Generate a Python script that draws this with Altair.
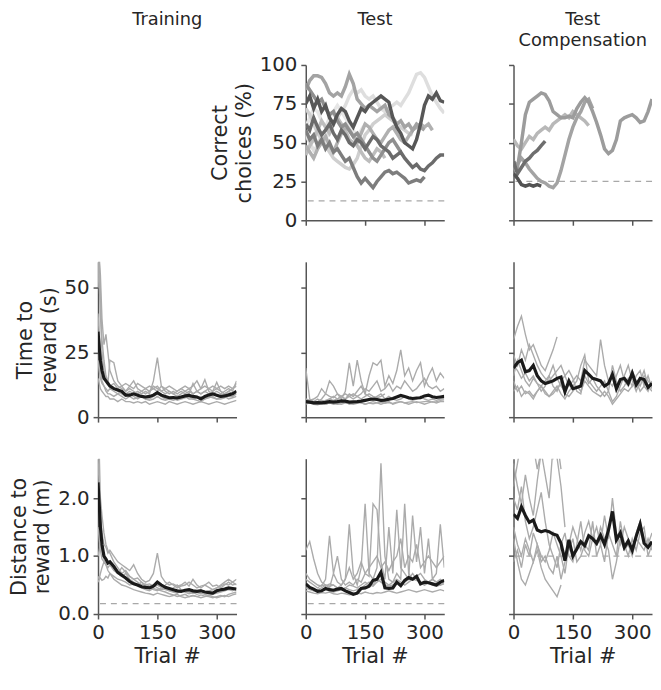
import altair as alt
import pandas as pd

# ---------------- trial grids ----------------
T10 = list(range(0, 351, 10))
T_TRAIN = [0, 3, 6, 10, 15, 20, 25, 30] + list(range(40, 351, 10))

# ---------------- Row 1: correct choices (%) - Test ----------------
CC_T1 = [75, 80, 72, 78, 70, 74, 66, 62, 68, 72, 70, 64, 60, 66, 72, 70, 74, 76, 78, 80, 78, 76, 66, 60, 56, 50, 48, 46, 52, 62, 74, 80, 78, 82, 77, 76]
CC_T2 = [62, 58, 66, 60, 55, 58, 62, 56, 52, 58, 55, 50, 48, 52, 50, 46, 50, 54, 52, 48, 46, 44, 40, 42, 44, 40, 37, 34, 36, 33, 32, 35, 37, 40, 42, 42]
CC_T3 = [58, 52, 55, 48, 52, 46, 50, 44, 46, 42, 38, 40, 34, 28, 24, 27, 24, 21, 25, 28, 31, 32, 30, 31, 29, 27, 24, 25, 26, 25, 28]
CC_T4 = [84, 90, 93, 93, 92, 88, 82, 80, 82, 80, 86, 94, 88, 78, 75, 72, 74, 72, 70, 72, 74, 68, 66, 62, 64, 60, 62, 58, 62, 60, 58]
CC_T5 = [55, 50, 45, 48, 55, 52, 58, 62, 66, 70, 74, 80, 84, 82, 84, 80, 78, 80, 76, 72, 70, 72, 74, 76, 74, 78, 82, 88, 94, 95, 92, 86, 80, 76, 72, 69]
CC_T6 = [72, 68, 62, 56, 52, 48, 44, 40, 38, 36, 34, 33, 36, 40, 48, 55, 58, 62, 64, 66, 68, 66, 64, 62, 60, 58, 56, 55]
CC_T7 = [48, 44, 40, 46, 50, 54, 48, 44, 50, 56, 60, 58, 54, 50, 56, 62, 60, 56, 52, 50, 54, 58, 60, 56, 52, 50, 54, 58, 60, 62, 60, 62, 58]
CC_T8 = [88, 84, 80, 76, 78, 72, 68, 70, 64, 60, 62, 58, 54, 56, 52, 48, 44, 40, 38, 42, 46, 50, 52, 48, 44]
CC_T9 = [42, 48, 52, 58, 64, 60, 56, 62, 66, 62, 58, 52, 50, 48, 44, 40, 38, 42, 46, 44, 40]
CC_T10 = [60, 66, 72, 70, 64, 60, 66, 70, 74, 70, 66, 62, 58, 54, 58, 62]
CC_T_COLORS = ["#e6e6e6", "#dedede", "#cfcfcf", "#bdbdbd", "#b0b0b0", "#a3a3a3", "#8f8f8f", "#7d7d7d", "#6b6b6b", "#575757"]
CC_T_CHANCE = 12.5

# ---------------- Row 1: correct choices (%) - Test Compensation ----------------
CC_C1 = [38, 34, 50, 68, 76, 78, 80, 82, 81, 77, 70, 68, 66, 66, 67, 66, 72, 76, 79, 76, 70, 63, 55, 46, 43, 45, 52, 64, 66, 67, 68, 66, 63, 64, 70, 78]
CC_C2 = [52, 48, 46, 50, 54, 52, 56, 58, 60, 58, 62, 64, 66, 68, 66, 70, 68, 66, 64, 61]
CC_C3 = [32, 36, 40, 37, 33, 30, 27, 25, 24, 22, 21, 24, 32, 42, 52, 60, 66, 70, 76, 78, 72]
CC_C4 = [38, 30, 34, 38, 40, 43, 45, 48, 51]
CC_C5 = [30, 27, 23, 22, 23, 22, 23, 22]
CC_C_COLORS = ["#b8b8b8", "#a3a3a3", "#9c9c9c", "#6e6e6e", "#525252"]
CC_C_CHANCE = 25

# ---------------- Row 2: time to reward (s) ----------------
TT_MEAN = [33, 27, 22, 18, 15, 14, 13, 12, 11, 10.5, 10, 8.5, 8.5, 9, 8.5, 8, 7.8, 8, 8.5, 9.5, 8.5, 8, 7.5, 7.6, 7.4, 7.8, 8.2, 8.4, 8, 7.8, 7, 8, 8.6, 9, 8.5, 8, 8.2, 8.6, 9, 10]
TT_G1 = [75, 65, 48, 30, 22, 16, 14, 12, 11, 10, 9, 8, 9, 8, 7, 8, 7, 7, 8, 9, 8, 7, 7, 6.5, 7, 7.5, 8, 7, 7, 6.5, 6, 7, 8, 7.5, 7, 7, 7.5, 8, 8, 9]
TT_G2 = [50, 60, 55, 38, 28, 32, 25, 18, 14, 12, 11, 10, 11, 10, 9, 10, 9, 10, 11, 12, 10, 11, 10, 9, 10, 11, 10, 9, 13, 10, 9, 10, 11, 10, 11, 10, 9, 10, 11, 12]
TT_G3 = [40, 32, 26, 20, 16, 14, 13, 22, 21, 14, 12, 13, 12, 14, 11, 10, 11, 10, 12, 11, 10, 9, 10, 9, 8, 9, 10, 11, 9, 10, 11, 14.5, 10, 9, 10, 9, 10, 11, 10, 14]
TT_G4 = [22, 18, 15, 13, 12, 11, 10, 11, 10, 9, 10, 9, 10, 9, 10, 9, 10, 9, 14, 23, 12, 10, 9, 10, 9, 10, 9, 10, 9, 10, 9, 10, 9, 10, 13.5, 10, 9, 10, 9, 10]
TT_G5 = [15, 13, 11, 10, 9, 8, 8, 7, 7, 6, 7, 6, 6, 5.5, 6, 5.5, 6, 5, 5.5, 6, 5.5, 5, 6, 5.5, 5, 5.5, 6, 5.5, 5, 5.5, 6, 5.5, 5, 5.5, 6, 5.5, 5, 5.5, 6, 6.5]
TT_G6 = [30, 24, 18, 14, 12, 10, 9, 9, 8, 9, 8, 7, 8, 7, 7.5, 8, 7, 6.5, 7, 8, 7, 6.5, 7, 7.5, 6.5, 7, 7.5, 8, 7, 7.5, 8, 7, 7.5, 8, 7, 7.5, 8, 7, 7.5, 8]
TT_G7 = [62, 52, 40, 25, 18, 15, 13, 12, 13, 11, 12, 10, 12, 11, 13, 12, 11, 12, 11, 10, 12, 11, 12, 11, 10, 11, 12, 11, 12, 14, 11, 12, 11, 12, 11, 12, 11, 12, 11, 13]

TS_MEAN = [6, 5.8, 5.5, 5.6, 5.5, 5.7, 6, 5.8, 6, 6.3, 6.2, 5.8, 5.9, 6, 6.2, 6.5, 6.8, 7, 6.8, 6.5, 6.6, 6.9, 7.2, 7.8, 8.4, 8, 7.5, 7.2, 7.4, 7.5, 8.2, 8.5, 7.9, 7.6, 7.8, 8]
TS_G1 = [19, 7, 6, 5.5, 6, 5, 5.5, 6, 5, 5.5, 6, 5, 5.5, 6, 5.5, 5, 5.5, 6, 5.5, 5, 5.5, 6, 5, 5.5, 6, 5.5, 5, 5.5, 6, 5.5, 5, 5.5, 6, 5.5, 6, 6]
TS_G2 = [7, 6, 5.5, 6, 7, 9, 14, 12, 9, 7, 10, 21, 12, 22, 14, 9, 8, 7, 8, 9, 7, 8, 7, 6.5, 7, 8, 7, 6.5, 7, 8, 7, 6.5, 7, 6.5, 7, 7]
TS_G3 = [6, 5.5, 6, 7, 6, 6.5, 7, 8, 7, 8, 7, 9, 8, 10, 12, 9, 16, 21, 20, 22, 12, 16, 13, 18, 26, 16, 19, 14, 18, 21, 12, 16, 19, 14, 17, 15]
TS_G4 = [6.5, 6, 5.5, 6, 6.5, 6, 7, 6.5, 7, 8, 9, 8, 7, 8, 9, 11, 10, 12, 14, 10, 11, 13, 10, 12, 11, 14, 12, 10, 11, 13, 15, 12, 11, 12, 10, 11]
TS_G5 = [5, 5.5, 5, 4.8, 5.2, 5, 5.5, 5, 5.2, 5, 5.5, 5.2, 5, 5.3, 5.6, 5, 5.4, 5.2, 5.5, 5.8, 5.4, 5.6, 5.3, 5.8, 6, 5.5, 5.8, 6, 5.6, 5.8, 6, 6.2, 5.8, 6, 6.4, 6.2]
TS_G6 = [7, 6.5, 7, 8, 11, 9, 8, 7.5, 9, 8, 7, 8, 9, 8, 7, 8, 9, 8, 7.5, 8, 9]

TC_MEAN = [19, 21, 22, 17.5, 18, 20, 16, 14, 13, 13.5, 14, 15, 15.5, 9.8, 14, 11, 11.5, 12, 18, 16.5, 15, 14.5, 14, 12, 13, 16.5, 11, 14.5, 15, 13, 17, 12.5, 15, 14.5, 11.5, 13]
TC_G1 = [30, 35, 39, 32, 26, 28, 24, 20, 18, 22, 26, 31]
TC_G2 = [24, 20, 26, 22, 28, 24, 20, 17, 15, 14, 16, 18, 20, 16, 12, 14, 16, 14, 22, 20, 18, 16, 30, 20, 14, 12, 16, 20, 14, 12, 18, 14, 12, 16, 14, 12]
TC_G3 = [14, 10, 12, 9, 10, 8, 10, 12, 9, 8, 10, 12, 9, 7, 10, 12, 14, 20, 24, 14, 12, 10, 12, 14, 10, 6, 8, 12, 16, 20, 14, 10, 14, 18, 12, 10]
TC_G4 = [20, 18, 15, 17, 14, 16, 13, 12, 14, 16, 12, 10, 14, 16, 18, 15, 10, 9, 16, 13, 15, 12, 10, 8, 10, 20, 14, 10, 12, 15, 12, 16, 18, 12, 10, 14]
TC_G5 = [16, 22, 18, 14, 12, 15, 13, 10, 12, 16, 20, 15, 12, 10]
TC_G6 = [10, 12, 8, 10, 9, 7, 10, 12, 10, 8, 9, 11, 13, 9, 8, 10, 12, 10, 14, 12, 10, 9, 8, 10, 8, 5, 7, 9, 11, 10, 12, 14, 10, 12, 16, 11]

# ---------------- Row 3: distance to reward (m) ----------------
DT_MEAN = [2.27, 1.9, 1.5, 1.2, 1.0, 0.95, 0.88, 0.9, 0.82, 0.72, 0.67, 0.62, 0.56, 0.52, 0.5, 0.47, 0.46, 0.45, 0.48, 0.55, 0.5, 0.46, 0.44, 0.42, 0.4, 0.39, 0.41, 0.42, 0.4, 0.39, 0.4, 0.38, 0.37, 0.36, 0.4, 0.42, 0.43, 0.45, 0.44, 0.43]
DT_G1 = [3.0, 2.8, 2.0, 1.7, 1.4, 1.2, 1.1, 1.05, 0.9, 0.8, 0.7, 0.75, 0.65, 0.6, 0.55, 0.5, 0.52, 0.48, 0.5, 0.45, 0.42, 0.44, 0.4, 0.38, 0.36, 0.4, 0.38, 0.35, 0.37, 0.34, 0.36, 0.34, 0.32, 0.34, 0.36, 0.38, 0.4, 0.42, 0.4, 0.45]
DT_G2 = [2.7, 2.2, 1.7, 1.4, 1.2, 1.15, 1.05, 1.1, 1.0, 0.9, 0.85, 0.8, 0.75, 0.85, 0.7, 0.6, 0.55, 0.58, 0.7, 1.05, 0.65, 0.55, 0.5, 0.52, 0.48, 0.5, 0.55, 0.48, 0.6, 0.5, 0.45, 0.5, 0.55, 0.48, 0.5, 0.45, 0.5, 0.55, 0.5, 0.52]
DT_G3 = [0.65, 0.6, 0.62, 0.58, 0.6, 0.65, 0.62, 0.7, 0.65, 0.6, 0.58, 0.55, 0.5, 0.52, 0.48, 0.45, 0.42, 0.4, 0.44, 0.42, 0.4, 0.38, 0.35, 0.33, 0.3, 0.32, 0.34, 0.3, 0.32, 0.3, 0.28, 0.3, 0.32, 0.3, 0.28, 0.3, 0.32, 0.3, 0.33, 0.35]
DT_G4 = [1.0, 1.1, 1.2, 1.1, 0.95, 0.85, 0.8, 0.85, 0.78, 0.7, 0.8, 0.72, 0.65, 0.6, 0.62, 0.55, 0.5, 0.52, 0.48, 0.5, 0.46, 0.5, 0.55, 0.5, 0.45, 0.48, 0.5, 0.55, 0.5, 0.45, 0.48, 0.5, 0.46, 0.42, 0.45, 0.5, 0.55, 0.6, 0.55, 0.5]
DT_G5 = [0.55, 0.6, 0.7, 0.8, 0.9, 0.85, 0.75, 0.7, 0.6, 0.55, 0.5, 0.48, 0.45, 0.42, 0.4, 0.38, 0.36, 0.35, 0.33, 0.36, 0.34, 0.32, 0.3, 0.32, 0.34, 0.3, 0.28, 0.3, 0.32, 0.3, 0.33, 0.31, 0.3, 0.28, 0.3, 0.32, 0.3, 0.34, 0.36, 0.38]
DT_G6 = [1.5, 1.3, 1.1, 0.95, 0.9, 0.95, 0.9, 0.85, 0.75, 0.7, 0.65, 0.7, 0.6, 0.55, 0.5, 0.55, 0.48, 0.45, 0.42, 0.4, 0.45, 0.42, 0.4, 0.45, 0.5, 0.42, 0.4, 0.38, 0.36, 0.4, 0.42, 0.38, 0.4, 0.42, 0.45, 0.48, 0.52, 0.5, 0.55, 0.6]
DT_TARGET = 0.18

DS_MEAN = [0.52, 0.46, 0.43, 0.39, 0.4, 0.44, 0.42, 0.41, 0.43, 0.44, 0.4, 0.37, 0.34, 0.36, 0.44, 0.45, 0.48, 0.58, 0.6, 0.72, 0.45, 0.44, 0.45, 0.55, 0.49, 0.58, 0.63, 0.6, 0.65, 0.52, 0.55, 0.54, 0.52, 0.5, 0.55, 0.58]
DS_G1 = [1.1, 1.25, 0.95, 0.7, 0.55, 0.5, 0.48, 0.5, 0.45, 0.5, 0.6, 1.55, 0.7, 0.5, 0.8, 1.9, 0.7, 0.6, 0.8, 2.6, 1.0, 0.6, 0.55, 0.7, 0.6, 1.9, 0.7, 0.6, 0.65, 0.7, 0.6, 0.55, 0.6, 0.55, 0.6, 0.55]
DS_G2 = [0.7, 0.6, 0.55, 0.5, 0.48, 0.6, 1.35, 0.7, 1.0, 0.6, 0.5, 0.55, 0.5, 0.6, 0.55, 0.7, 0.65, 1.9, 1.8, 0.9, 0.6, 1.5, 0.7, 1.8, 0.8, 0.7, 0.6, 1.7, 0.9, 1.5, 0.7, 1.3, 0.6, 0.7, 1.55, 0.8]
DS_G3 = [0.5, 0.45, 0.4, 0.42, 0.45, 0.5, 0.45, 0.7, 0.55, 0.5, 0.6, 0.8, 0.6, 0.7, 0.9, 0.7, 0.8, 0.9, 1.0, 0.8, 0.9, 0.75, 0.9, 1.0, 1.3, 0.8, 1.0, 0.9, 1.2, 0.8, 0.9, 1.0, 0.9, 0.8, 0.9, 1.0]
DS_G4 = [0.4, 0.38, 0.36, 0.35, 0.37, 0.36, 0.38, 0.35, 0.34, 0.36, 0.35, 0.33, 0.34, 0.36, 0.35, 0.38, 0.36, 0.35, 0.37, 0.36, 0.38, 0.4, 0.38, 0.36, 0.38, 0.4, 0.42, 0.4, 0.38, 0.4, 0.42, 0.4, 0.38, 0.4, 0.42, 0.4]
DS_G5 = [0.6, 0.55, 0.5, 0.45, 0.5, 0.48, 0.52, 0.5, 0.45, 0.42, 0.45, 0.5, 0.48, 0.45, 0.5, 0.55, 0.5, 0.48, 0.55, 0.6, 0.55, 0.5, 0.55, 0.6, 0.55, 0.5, 0.55, 0.6, 0.58, 0.55, 0.5, 0.55, 0.6, 0.55, 0.5, 0.55]
DS_G6 = [0.45, 0.42, 0.4, 0.38, 0.4, 0.42, 0.4, 0.38, 0.4, 0.42, 0.45, 0.42, 0.4, 0.42, 0.45, 0.5, 0.55, 0.5, 0.6, 0.55, 0.5, 0.48, 0.5, 0.55, 0.5, 0.55, 0.6, 0.7, 0.6, 0.55, 0.5, 0.55, 0.5, 0.48, 0.5, 0.52]
DS_TARGET = 0.18

DC_MEAN = [1.72, 1.65, 1.85, 1.7, 1.58, 1.62, 1.45, 1.42, 1.44, 1.42, 1.38, 1.36, 1.22, 0.92, 1.28, 1.0, 1.12, 1.25, 1.18, 1.35, 1.3, 1.22, 1.36, 1.2, 1.45, 1.77, 1.28, 1.4, 1.15, 1.26, 1.1, 1.34, 1.55, 1.22, 1.15, 1.25]
DC_G1 = [2.2, 2.6, 3.0, 2.8, 3.2, 2.9, 2.5, 2.8, 3.1, 2.9, 2.7, 3.0, 2.5]
DC_G2 = [1.3, 0.9, 0.6, 0.5, 0.7, 0.9, 1.1, 0.8, 0.6, 0.5, 0.4, 0.3, 0.5]
DC_G3 = [2.0, 1.8, 2.2, 1.6, 1.3, 1.5, 1.8, 2.1, 1.6, 1.2, 1.0, 0.8, 1.2, 1.4, 1.0, 0.9, 1.2, 1.6, 1.1, 1.0, 1.3, 1.5, 1.2, 1.7, 1.3, 2.0, 1.4, 1.2, 1.5, 1.3, 1.1, 1.4, 1.6, 1.3, 1.2, 1.4]
DC_G4 = [1.5, 1.2, 1.0, 1.3, 1.1, 0.9, 1.2, 1.0, 0.9, 1.1, 1.4, 1.2, 1.0, 0.7, 1.2, 1.5, 1.3, 1.1, 1.4, 1.6, 1.3, 1.2, 1.5, 1.3, 1.1, 0.6, 0.9, 1.3, 1.1, 1.2, 1.0, 1.3, 1.2, 1.1, 1.3, 1.1]
DC_G5 = [2.6, 2.2, 1.9, 2.4, 2.0, 1.7, 2.3, 2.8, 2.4, 2.0, 2.9, 2.7, 2.2, 1.5]
DC_G6 = [0.9, 1.1, 0.8, 1.2, 1.0, 1.4, 1.2, 0.9, 1.0, 0.8, 0.7, 1.0, 0.6, 0.9, 1.1, 1.3, 0.9, 1.0, 1.2, 1.1, 1.6, 1.0, 1.2, 0.9, 1.4, 1.2, 1.0, 1.6, 1.2, 1.0, 1.3, 1.1, 1.4, 1.5, 1.0, 1.2]
DC_TARGET = 1.0

# ---------------- labels ----------------
COL_TITLES = [["Training"], ["Test"], ["Test", "Compensation"]]
Y_TITLES = [["Correct", "choices (%)"], ["Time to", "reward (s)"], ["Distance to", "reward (m)"]]
X_TITLE = "Trial #"
X_TICKS = [0, 150, 300]
Y_TICKS = [[0, 25, 50, 75, 100], [0, 25, 50], [0, 1, 2]]
Y_DOMAINS = [[0, 100], [0, 60], [0, 2.68]]

# ---------------- styling ----------------
FONT = "DejaVu Sans"
TXT = "#262626"
AXC = "#555555"
W, H = 140, 157
TITLE_Y = [-40, -19]


def to_df(series, trials):
    rows = []
    for name, vals in series:
        for t, v in zip(trials, vals):
            rows.append({"trial": t, "value": v, "series": name})
    return pd.DataFrame(rows)


def axis(values, show_labels, title, fmt=None, title_pad=5):
    kw = dict(values=values, labels=show_labels, grid=False, domainColor=AXC, domainWidth=1.5,
              tickColor=AXC, tickWidth=1.5, tickSize=5, labelFont=FONT, labelFontSize=20,
              labelColor=TXT, labelPadding=4, labelFlush=False, labelOverlap=False,
              titleFont=FONT, titleFontSize=21, titleColor=TXT, titleFontWeight="normal",
              titlePadding=title_pad, titleLineHeight=24, title=title)
    if fmt is not None:
        kw["format"] = fmt
    return alt.Axis(**kw)


def title_layers(lines):
    out = []
    for i, s in enumerate(lines):
        out.append(alt.Chart(pd.DataFrame({"a": [0]})).mark_text(
            text=s, font=FONT, fontSize=18, color=TXT, align="center", baseline="alphabetic"
        ).encode(x=alt.value(W / 2), y=alt.value(TITLE_Y[i])))
    return out


def panel(series, trials, row, ylab, xlab, mean=None, rule=None, colors=None, title=None):
    xs = alt.Scale(domain=[0, 350], nice=False, zero=False)
    ys = alt.Scale(domain=Y_DOMAINS[row], nice=False, zero=False)
    xa = axis(X_TICKS, xlab, X_TITLE if xlab else None, title_pad=3)
    ya = axis(Y_TICKS[row], ylab, Y_TITLES[row] if ylab else None, ".1f" if row == 2 else None)
    X = alt.X("trial:Q", scale=xs, axis=xa)
    Y = alt.Y("value:Q", scale=ys, axis=ya)
    layers = []
    if rule is not None:
        layers.append(alt.Chart(pd.DataFrame({"value": [rule]})).mark_rule(
            color="#a8a8a8", strokeWidth=1.3, strokeDash=[6, 5]).encode(y=Y))
    df = to_df(series, trials)
    if colors is not None:
        names = [n for n, _ in series]
        layers.append(alt.Chart(df).mark_line(strokeWidth=3.5, clip=True).encode(
            x=X, y=Y,
            color=alt.Color("series:N", scale=alt.Scale(domain=names, range=colors), legend=None),
            detail="series:N"))
    else:
        layers.append(alt.Chart(df).mark_line(strokeWidth=1.4, color="#ababab", clip=True).encode(
            x=X, y=Y, detail="series:N"))
    if mean is not None:
        mdf = pd.DataFrame({"trial": trials[:len(mean)], "value": mean})
        layers.append(alt.Chart(mdf).mark_line(strokeWidth=3.2, color="#1a1a1a", clip=True).encode(x=X, y=Y))
    if title is not None:
        layers += title_layers(title)
    return alt.layer(*layers).properties(width=W, height=H)


empty = alt.layer(*title_layers(COL_TITLES[0])).properties(width=W, height=H)

r1c2 = panel([("t10", CC_T10), ("t5", CC_T5), ("t6", CC_T6), ("t9", CC_T9), ("t7", CC_T7),
              ("t4", CC_T4), ("t8", CC_T8), ("t3", CC_T3), ("t2", CC_T2), ("t1", CC_T1)],
             T10, 0, True, False, rule=CC_T_CHANCE, colors=CC_T_COLORS, title=COL_TITLES[1])
r1c3 = panel([("c2", CC_C2), ("c3", CC_C3), ("c1", CC_C1), ("c4", CC_C4), ("c5", CC_C5)],
             T10, 0, False, False, rule=CC_C_CHANCE, colors=CC_C_COLORS, title=COL_TITLES[2])

r2c1 = panel([("g1", TT_G1), ("g2", TT_G2), ("g3", TT_G3), ("g4", TT_G4), ("g5", TT_G5), ("g6", TT_G6), ("g7", TT_G7)],
             T_TRAIN, 1, True, False, mean=TT_MEAN)
r2c2 = panel([("g1", TS_G1), ("g2", TS_G2), ("g3", TS_G3), ("g4", TS_G4), ("g5", TS_G5), ("g6", TS_G6)],
             T10, 1, False, False, mean=TS_MEAN)
r2c3 = panel([("g1", TC_G1), ("g2", TC_G2), ("g3", TC_G3), ("g4", TC_G4), ("g5", TC_G5), ("g6", TC_G6)],
             T10, 1, False, False, mean=TC_MEAN)

r3c1 = panel([("g1", DT_G1), ("g2", DT_G2), ("g3", DT_G3), ("g4", DT_G4), ("g5", DT_G5), ("g6", DT_G6)],
             T_TRAIN, 2, True, True, mean=DT_MEAN, rule=DT_TARGET)
r3c2 = panel([("g1", DS_G1), ("g2", DS_G2), ("g3", DS_G3), ("g4", DS_G4), ("g5", DS_G5), ("g6", DS_G6)],
             T10, 2, False, True, mean=DS_MEAN, rule=DS_TARGET)
r3c3 = panel([("g1", DC_G1), ("g2", DC_G2), ("g3", DC_G3), ("g4", DC_G4), ("g5", DC_G5), ("g6", DC_G6)],
             T10, 2, False, True, mean=DC_MEAN, rule=DC_TARGET)

chart = alt.concat(
    empty, r1c2, r1c3, r2c1, r2c2, r2c3, r3c1, r3c2, r3c3,
    columns=3, spacing={"row": 42, "column": 70}, bounds="flush"
).resolve_scale(
    x="independent", y="independent", color="independent"
).configure_view(
    stroke=None
).properties(padding={"left": 0, "right": 0, "top": 0, "bottom": 0})

chart.save("out.html", embed_options={"renderer": "svg", "actions": False})
